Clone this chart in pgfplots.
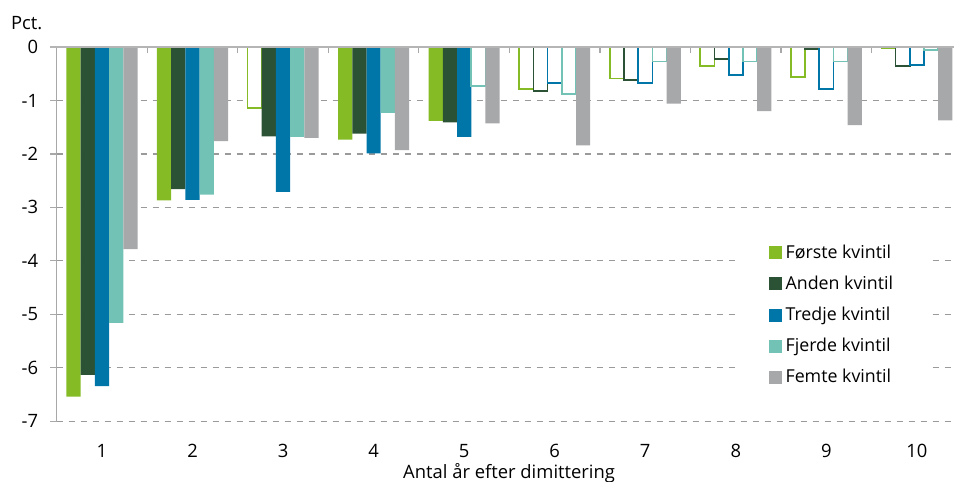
\documentclass[border=0pt]{standalone}
\usepackage{fontspec}
\setmainfont{Open Sans}
\usepackage{pgfplots}
\pgfplotsset{compat=1.18}
\definecolor{cA}{HTML}{85BC26}
\definecolor{cB}{HTML}{2B5234}
\definecolor{cC}{HTML}{0076A8}
\definecolor{cD}{HTML}{72C3B5}
\definecolor{cE}{HTML}{A7A8AA}
\definecolor{axgray}{HTML}{A8A8A8}
\definecolor{gridgray}{HTML}{9A9A9A}
\begin{document}
\begin{tikzpicture}
\path[use as bounding box] (-28.35pt,-30.35pt) rectangle (448.65pt,210.65pt);
\begin{axis}[
  name=ax,
  at={(0,0)}, anchor=south west,
  scale only axis, width=448.65pt, height=187.15pt,
  xmin=0.5, xmax=10.41, ymin=-7, ymax=0,
  ybar=0pt, bar width=0.157,
  axis line style={draw=none},
  font=\fontsize{9.2}{11}\selectfont,
  xtick={1,2,3,4,5,6,7,8,9,10},
  xticklabels={1,2,3,4,5,6,7,8,9,10},
  xtick style={draw=none},
  xticklabel style={yshift=-4.5pt},
  ytick={-7,-6,-5,-4,-3,-2,-1,0},
  yticklabels={-7,-6,-5,-4,-3,-2,-1,0},
  yticklabel style={xshift=-2.5pt},
  ytick pos=left,
  tick align=outside,
  major tick length=3.3pt,
  ytick style={draw=axgray, line width=0.6pt},
  ymajorgrids,
  grid style={dashed, gridgray, line width=0.6pt},
  clip mode=individual,
  legend cell align=left,
  legend style={at={(0.755,0.516)}, anchor=north west, draw=none, fill=white,
    inner xsep=17pt, inner ysep=6pt, row sep=3.3pt,
    font=\fontsize{8.9}{10}\selectfont},
  legend image code/.code={\fill[#1, draw=none] (0pt,-3.25pt) rectangle (6.5pt,3.25pt);},
]
% Q1
\addplot[fill=cA, draw=none, bar shift=-0.314] coordinates {(1,-6.54) (2,-2.87) (4,-1.73) (5,-1.38)};
\addlegendentry{Første kvintil}
\addplot[fill=white, draw=cA, line width=0.85pt, bar shift=-0.314, forget plot] coordinates {(3,-1.14) (6,-0.78) (7,-0.59) (8,-0.36) (9,-0.56) (10,-0.02)};
% Q2
\addplot[fill=cB, draw=none, bar shift=-0.157] coordinates {(1,-6.13) (2,-2.66) (3,-1.67) (4,-1.62) (5,-1.41)};
\addlegendentry{Anden kvintil}
\addplot[fill=white, draw=cB, line width=0.85pt, bar shift=-0.157, forget plot] coordinates {(6,-0.82) (7,-0.62) (8,-0.22) (9,-0.04) (10,-0.36)};
% Q3
\addplot[fill=cC, draw=none, bar shift=0] coordinates {(1,-6.34) (2,-2.86) (3,-2.71) (4,-1.99) (5,-1.68)};
\addlegendentry{Tredje kvintil}
\addplot[fill=white, draw=cC, line width=0.85pt, bar shift=0, forget plot] coordinates {(6,-0.67) (7,-0.67) (8,-0.52) (9,-0.79) (10,-0.34)};
% Q4
\addplot[fill=cD, draw=none, bar shift=0.157] coordinates {(1,-5.16) (2,-2.76) (3,-1.68) (4,-1.23)};
\addlegendentry{Fjerde kvintil}
\addplot[fill=white, draw=cD, line width=0.85pt, bar shift=0.157, forget plot] coordinates {(5,-0.73) (6,-0.88) (7,-0.27) (8,-0.27) (9,-0.27) (10,-0.05)};
% Q5
\addplot[fill=cE, draw=none, bar shift=0.314] coordinates {(1,-3.78) (2,-1.76) (3,-1.70) (4,-1.93) (5,-1.43) (6,-1.84) (7,-1.06) (8,-1.20) (9,-1.46) (10,-1.37)};
\addlegendentry{Femte kvintil}
\pgfplotsinvokeforeach{1.5,2.5,3.5,4.5,5.5,6.5,7.5,8.5,9.5}{
  \draw[axgray, line width=0.6pt] (axis cs:#1,0) -- ++(0pt,-3pt);
}
\end{axis}
\draw[axgray, line width=0.6pt] (ax.south west) -- (ax.north west);
\draw[axgray!85, line width=0.75pt] ([xshift=-3.3pt]ax.north west) -- (ax.north east);
\node[anchor=west, inner sep=0pt, font=\fontsize{9.2}{11}\selectfont] at (-23pt,199pt) {Pct.};
\node[anchor=base, inner sep=0pt, font=\fontsize{9.2}{11}\selectfont] at (226.2pt,-28.6pt) {Antal år efter dimittering};
\end{tikzpicture}
\end{document}
